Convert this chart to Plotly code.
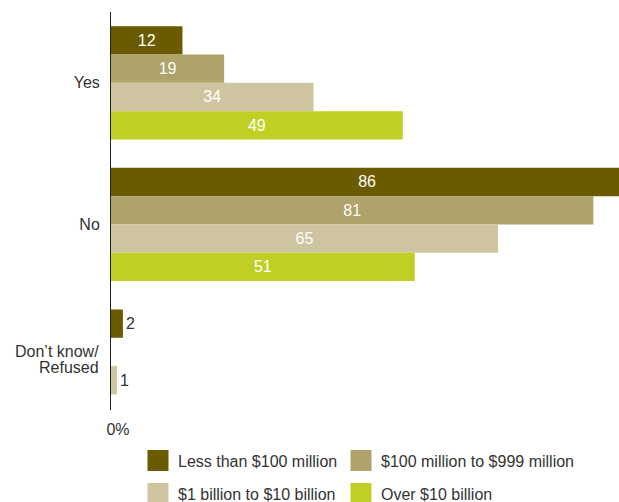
import plotly.graph_objects as go

# Survey answers and company-size segments
answers = ["Yes", "No", "Don’t know/ Refused"]
answer_lines = [["Yes"], ["No"], ["Don’t know/", "Refused"]]
segments = [
    "Less than $100 million",
    "$100 million to $999 million",
    "$1 billion to $10 billion",
    "Over $10 billion",
]
# Percent of respondents per answer, one list per segment
less_than_100m = [12, 86, 2]
m100_to_999m = [19, 81, 0]
b1_to_10b = [34, 65, 1]
over_10b = [49, 51, 0]

series = [less_than_100m, m100_to_999m, b1_to_10b, over_10b]
colors = ["#6b5b00", "#afa26b", "#cec5a0", "#c1cf24"]

FONT = "Arial, Liberation Sans, sans-serif"
TEXT = "#333333"
FS = 16

fig = go.Figure()

for name, vals, col in zip(segments, series, colors):
    fig.add_trace(go.Bar(
        y=answers,
        x=vals,
        orientation="h",
        name=name,
        marker=dict(color=col, line=dict(width=0)),
        text=[str(v) if v else "" for v in vals],
        textposition="auto",
        insidetextanchor="middle",
        insidetextfont=dict(color="white", size=FS, family=FONT),
        outsidetextfont=dict(color=TEXT, size=FS, family=FONT),
        cliponaxis=True,
        showlegend=False,
        hoverinfo="skip",
    ))

# One legend box per segment, laid out as a 2 x 2 grid under the plot
legend_ids = ["legend", "legend2", "legend3", "legend4"]
legend_x = [138, 341, 138, 341]          # px from left
legend_y = [460.5, 460.5, 493.5, 493.5]  # px from top (row centres)

for name, col, lg in zip(segments, colors, legend_ids):
    fig.add_trace(go.Scatter(
        x=[None], y=[None],
        mode="markers",
        name=name,
        marker=dict(symbol="square", size=16, color=col,
                    line=dict(color=col, width=5)),
        legend=lg,
        showlegend=True,
    ))

W, H = 619, 502
legend_layout = {}
for lg, lx, ly in zip(legend_ids, legend_x, legend_y):
    legend_layout[lg] = dict(
        orientation="h",
        xref="container", yref="container",
        x=lx / W, y=1 - ly / H,
        xanchor="left", yanchor="middle",
        font=dict(size=FS, family=FONT, color=TEXT),
        bgcolor="rgba(0,0,0,0)",
        borderwidth=0,
    )

# Category labels: single-line ones as ticks; the two-line one as an
# annotation whose base font is smaller so its lines sit closer together
ticktext = [lines[0] if len(lines) == 1 else "" for lines in answer_lines]
annotations = []
for cat, lines in zip(answers, answer_lines):
    if len(lines) < 2:
        continue
    label = "<br>".join(
        f'<span style="font-size:{FS}px">{line}</span>' for line in lines
    )
    annotations.append(dict(
        x=0, xref="paper", xanchor="right", xshift=-10,
        y=cat, yref="y", yanchor="middle", yshift=7,
        text=label, align="right", showarrow=False,
        font=dict(size=12, family=FONT, color=TEXT),
    ))

fig.update_layout(
    width=W,
    height=H,
    margin=dict(l=111, r=0, t=12, b=92),
    paper_bgcolor="white",
    plot_bgcolor="white",
    barmode="group",
    bargap=0.2,
    bargroupgap=0,
    font=dict(family=FONT, size=FS, color=TEXT),
    annotations=annotations,
    xaxis=dict(
        range=[0, 85.3],
        showgrid=False,
        zeroline=False,
        showline=False,
        tickvals=[0],
        ticktext=["0%"],
        ticks="",
        ticklabelshift=7,
        ticklabelstandoff=8,
        tickfont=dict(size=FS, family=FONT, color=TEXT),
        fixedrange=True,
    ),
    yaxis=dict(
        categoryorder="array",
        categoryarray=answers,
        tickvals=answers,
        ticktext=ticktext,
        range=[2.31, -0.5],
        showgrid=False,
        zeroline=False,
        showline=True,
        linecolor="#222222",
        linewidth=1,
        ticks="",
        ticklabelstandoff=7,
        tickfont=dict(size=FS, family=FONT, color=TEXT),
        fixedrange=True,
    ),
    **legend_layout,
)

fig.write_html("out.html")
